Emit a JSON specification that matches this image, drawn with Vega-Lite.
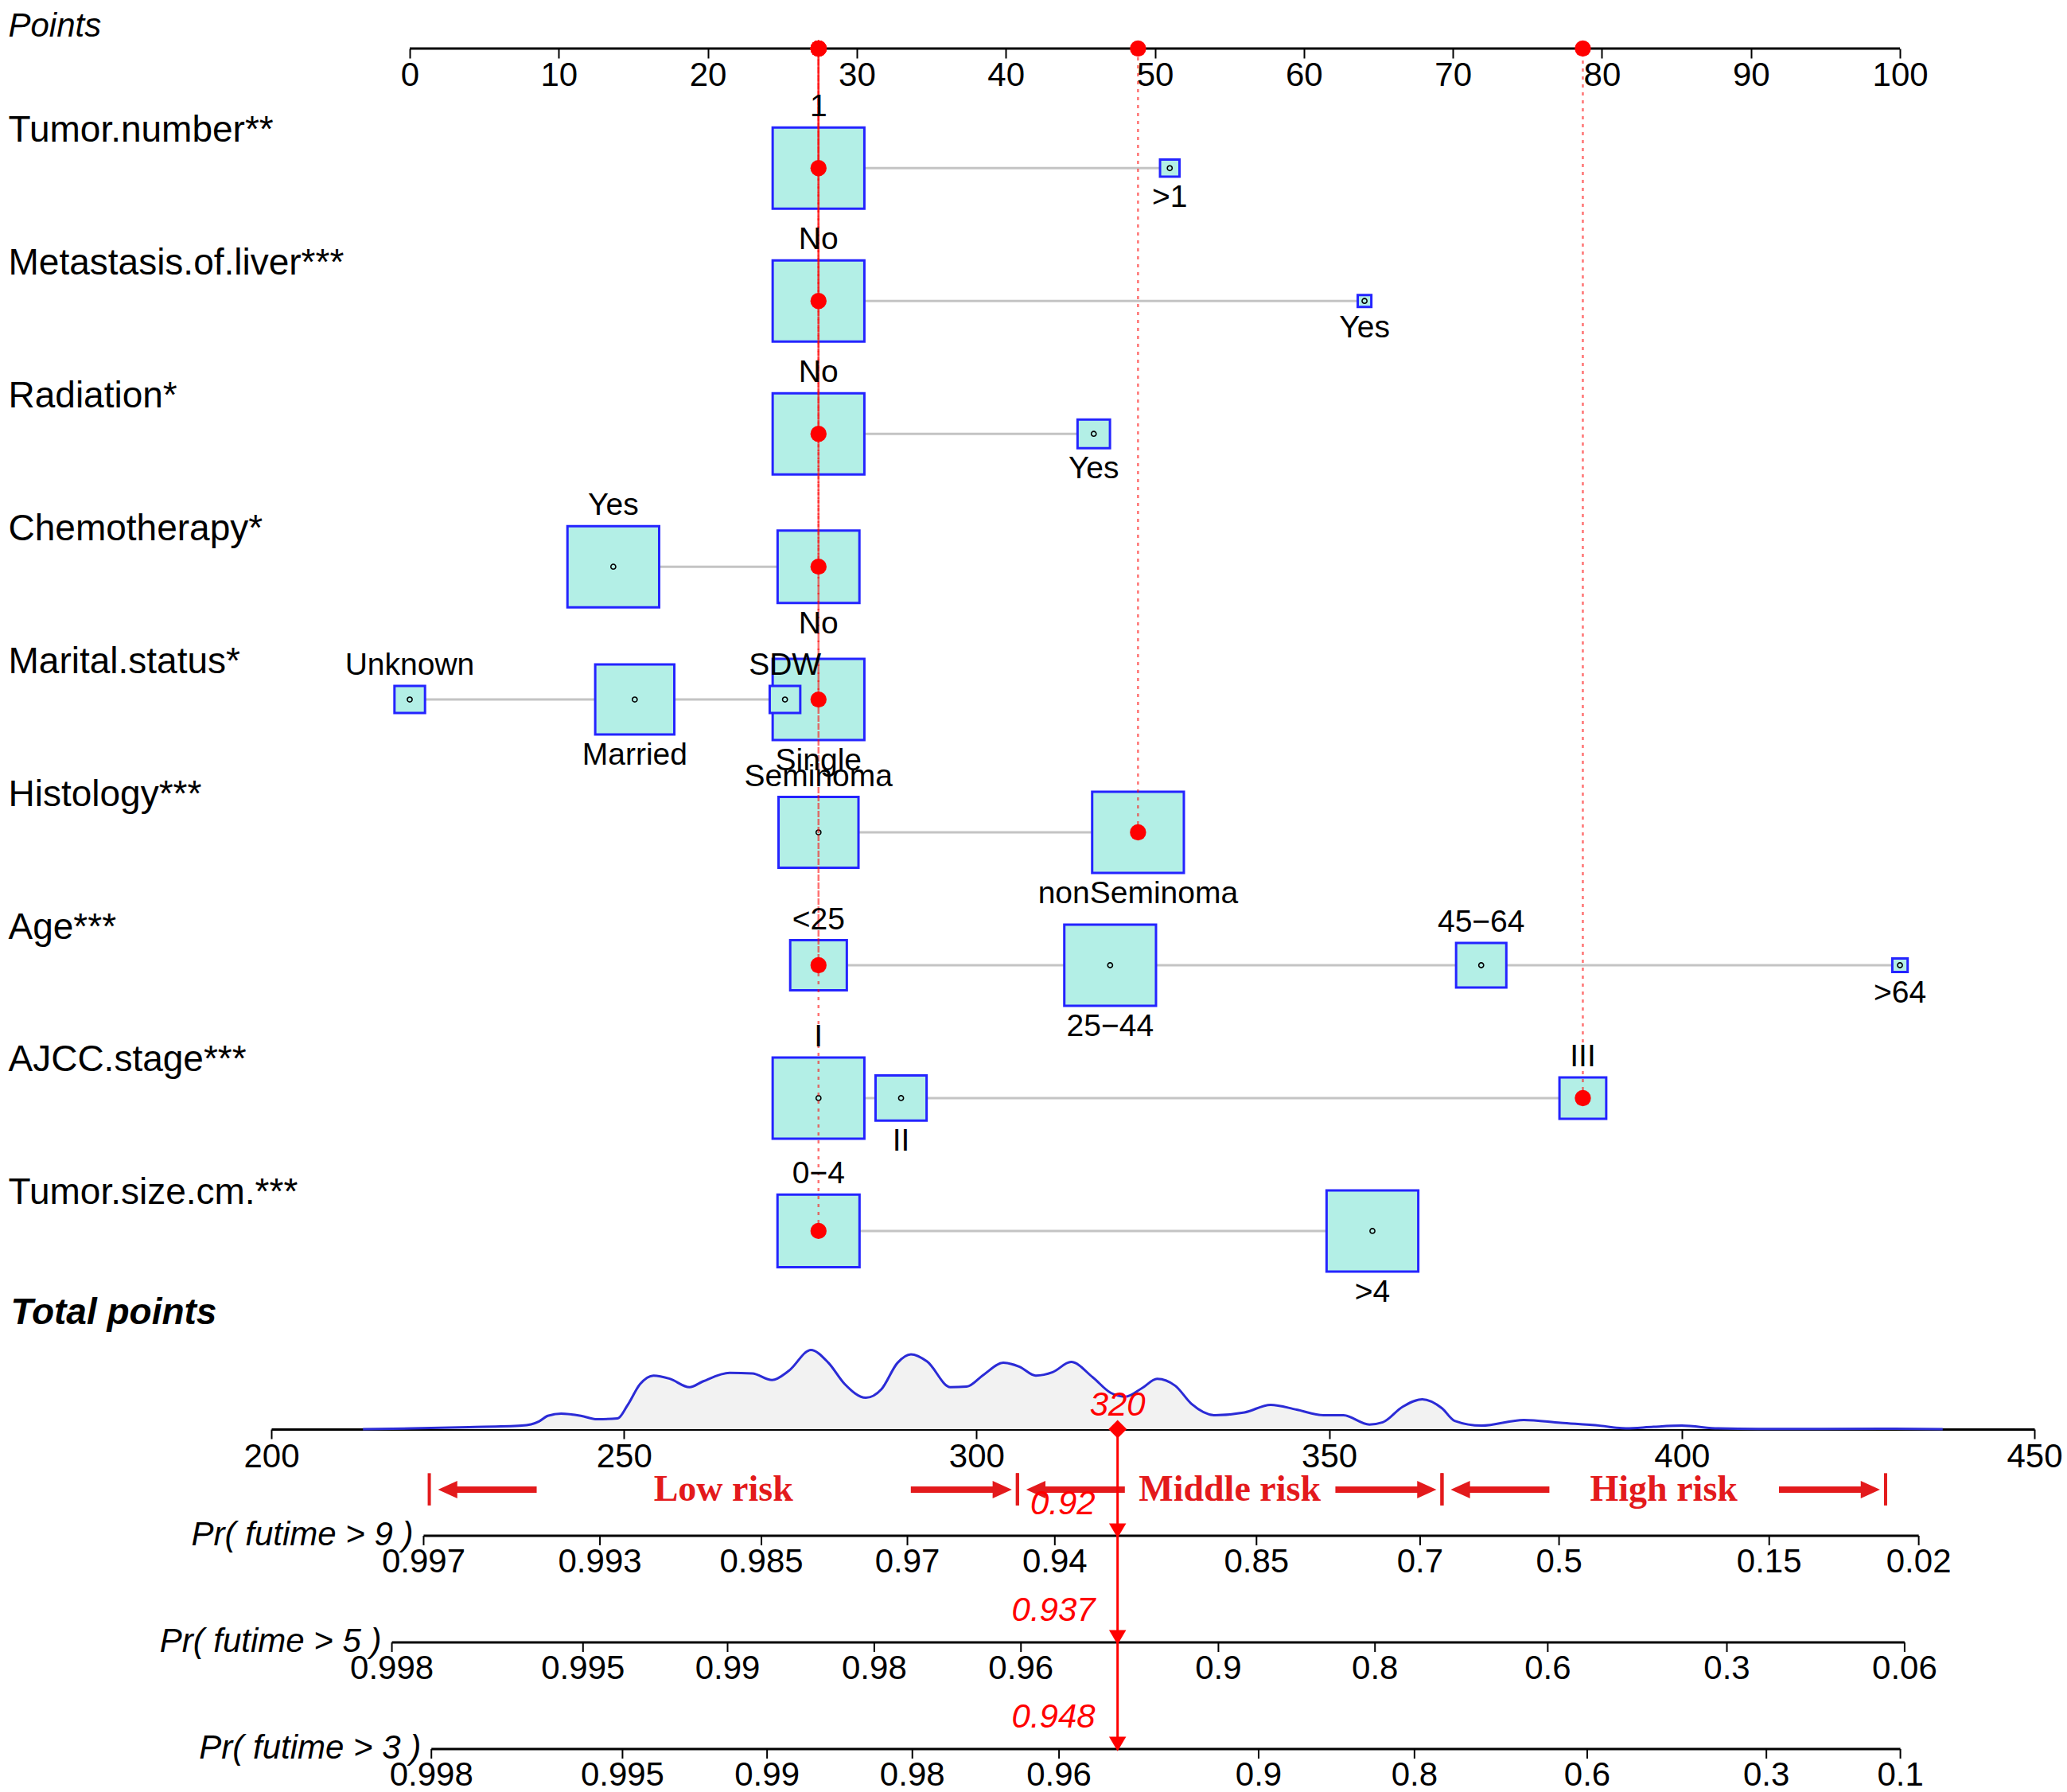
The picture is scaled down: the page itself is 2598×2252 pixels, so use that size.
{
"$schema": "https://vega.github.io/schema/vega-lite/v6.json",
"background": "white",
"padding": {"left": 10, "top": 11, "right": 2, "bottom": 0},
"spacing": 0,
"bounds": "flush",
"config": {"view": {"stroke": null}, "font": "Liberation Sans",
  "axis": {"labelFont": "Liberation Sans", "titleFont": "Liberation Sans", "labelColor": "black", "titleColor": "black", "tickColor": "black", "domainColor": "black", "grid": false}},
"datasets": {
  "nomogram": [
    {"variable": "Tumor.number**", "row": 1, "level": "1", "points": 27.43, "relFreq": 1.0, "selected": true},
    {"variable": "Tumor.number**", "row": 1, "level": ">1", "points": 51.0, "relFreq": 0.045, "selected": false},
    {"variable": "Metastasis.of.liver***", "row": 2, "level": "No", "points": 27.43, "relFreq": 1.0, "selected": true},
    {"variable": "Metastasis.of.liver***", "row": 2, "level": "Yes", "points": 64.07, "relFreq": 0.022, "selected": false},
    {"variable": "Radiation*", "row": 3, "level": "No", "points": 27.43, "relFreq": 1.0, "selected": true},
    {"variable": "Radiation*", "row": 3, "level": "Yes", "points": 45.9, "relFreq": 0.125, "selected": false},
    {"variable": "Chemotherapy*", "row": 4, "level": "Yes", "points": 13.66, "relFreq": 1.0, "selected": false},
    {"variable": "Chemotherapy*", "row": 4, "level": "No", "points": 27.43, "relFreq": 0.796, "selected": true},
    {"variable": "Marital.status*", "row": 5, "level": "Unknown", "points": 0, "relFreq": 0.111, "selected": false},
    {"variable": "Marital.status*", "row": 5, "level": "Married", "points": 15.1, "relFreq": 0.744, "selected": false},
    {"variable": "Marital.status*", "row": 5, "level": "SDW", "points": 25.18, "relFreq": 0.111, "selected": false},
    {"variable": "Marital.status*", "row": 5, "level": "Single", "points": 27.43, "relFreq": 1.0, "selected": true},
    {"variable": "Histology***", "row": 6, "level": "Seminoma", "points": 27.43, "relFreq": 0.76, "selected": false},
    {"variable": "Histology***", "row": 6, "level": "nonSeminoma", "points": 48.87, "relFreq": 1.0, "selected": true},
    {"variable": "Age***", "row": 7, "level": "<25", "points": 27.43, "relFreq": 0.381, "selected": true},
    {"variable": "Age***", "row": 7, "level": "25−44", "points": 47.0, "relFreq": 1.0, "selected": false},
    {"variable": "Age***", "row": 7, "level": "45−64", "points": 71.9, "relFreq": 0.30, "selected": false},
    {"variable": "Age***", "row": 7, "level": ">64", "points": 100, "relFreq": 0.028, "selected": false},
    {"variable": "AJCC.stage***", "row": 8, "level": "I", "points": 27.43, "relFreq": 1.0, "selected": false},
    {"variable": "AJCC.stage***", "row": 8, "level": "II", "points": 32.97, "relFreq": 0.31, "selected": false},
    {"variable": "AJCC.stage***", "row": 8, "level": "III", "points": 78.72, "relFreq": 0.26, "selected": true},
    {"variable": "Tumor.size.cm.***", "row": 9, "level": "0−4", "points": 27.43, "relFreq": 0.80, "selected": true},
    {"variable": "Tumor.size.cm.***", "row": 9, "level": ">4", "points": 64.6, "relFreq": 1.0, "selected": false}
  ],
  "density": [
    {"tp": 213, "density": 0}, {"tp": 220, "density": 0.010}, {"tp": 228, "density": 0.025}, {"tp": 235.5, "density": 0.044},
    {"tp": 238, "density": 0.10}, {"tp": 239.2, "density": 0.168}, {"tp": 241.1, "density": 0.195}, {"tp": 243.9, "density": 0.168},
    {"tp": 246.2, "density": 0.125}, {"tp": 249.1, "density": 0.135}, {"tp": 250.5, "density": 0.30}, {"tp": 252.3, "density": 0.57},
    {"tp": 254.2, "density": 0.677}, {"tp": 256.5, "density": 0.637}, {"tp": 259.3, "density": 0.53}, {"tp": 261.2, "density": 0.603},
    {"tp": 265.0, "density": 0.71}, {"tp": 268.2, "density": 0.703}, {"tp": 271.0, "density": 0.62}, {"tp": 273.4, "density": 0.738},
    {"tp": 276.5, "density": 0.999}, {"tp": 279.0, "density": 0.838}, {"tp": 281.3, "density": 0.57}, {"tp": 284.3, "density": 0.396},
    {"tp": 286.5, "density": 0.502}, {"tp": 288.8, "density": 0.838}, {"tp": 290.7, "density": 0.945}, {"tp": 293.0, "density": 0.854},
    {"tp": 296.3, "density": 0.53}, {"tp": 298.6, "density": 0.537}, {"tp": 301.0, "density": 0.687}, {"tp": 303.8, "density": 0.838},
    {"tp": 306.1, "density": 0.788}, {"tp": 308.4, "density": 0.677}, {"tp": 310.8, "density": 0.72}, {"tp": 313.4, "density": 0.848},
    {"tp": 316.5, "density": 0.653}, {"tp": 319.0, "density": 0.46}, {"tp": 321.1, "density": 0.41}, {"tp": 323.5, "density": 0.52},
    {"tp": 325.6, "density": 0.636}, {"tp": 328.2, "density": 0.547}, {"tp": 330.5, "density": 0.318}, {"tp": 333.8, "density": 0.176},
    {"tp": 338.0, "density": 0.211}, {"tp": 341.7, "density": 0.307}, {"tp": 345.4, "density": 0.246}, {"tp": 349.2, "density": 0.176},
    {"tp": 352.0, "density": 0.176}, {"tp": 355.7, "density": 0.059}, {"tp": 357.6, "density": 0.087}, {"tp": 360.4, "density": 0.281},
    {"tp": 363.2, "density": 0.377}, {"tp": 366.0, "density": 0.264}, {"tp": 367.8, "density": 0.105}, {"tp": 371.6, "density": 0.044},
    {"tp": 377.6, "density": 0.116}, {"tp": 382.8, "density": 0.080}, {"tp": 388.4, "density": 0.044}, {"tp": 392.1, "density": 0.009},
    {"tp": 396, "density": 0.03}, {"tp": 400, "density": 0.044}, {"tp": 405.2, "density": 0.009}, {"tp": 410.8, "density": 0.002},
    {"tp": 428.5, "density": 0.005}, {"tp": 437, "density": 0}
  ],
  "score": [{"total": 320}],
  "risk": [
    {"group": "Low risk", "from": 222.4, "to": 305.8},
    {"group": "Middle risk", "from": 305.8, "to": 366.0},
    {"group": "High risk", "from": 366.0, "to": 428.9}
  ],
  "prediction": [
    {"axis": "Pr9", "total": 320, "prob": "0.92"},
    {"axis": "Pr5", "total": 320, "prob": "0.937"},
    {"axis": "Pr3", "total": 320, "prob": "0.948"}
  ],
  "probAxes": [
    {"axis": "Pr9", "title": "Pr( futime > 9 )", "from": 221.6, "to": 433.6},
    {"axis": "Pr5", "title": "Pr( futime > 5 )", "from": 217.1, "to": 431.6},
    {"axis": "Pr3", "title": "Pr( futime > 3 )", "from": 222.7, "to": 431.0}
  ],
  "probTicks": [
    {"axis": "Pr9", "tp": 221.6, "label": "0.997"}, {"axis": "Pr9", "tp": 246.6, "label": "0.993"}, {"axis": "Pr9", "tp": 269.5, "label": "0.985"},
    {"axis": "Pr9", "tp": 290.2, "label": "0.97"}, {"axis": "Pr9", "tp": 311.1, "label": "0.94"}, {"axis": "Pr9", "tp": 339.7, "label": "0.85"},
    {"axis": "Pr9", "tp": 362.9, "label": "0.7"}, {"axis": "Pr9", "tp": 382.6, "label": "0.5"}, {"axis": "Pr9", "tp": 412.4, "label": "0.15"},
    {"axis": "Pr9", "tp": 433.6, "label": "0.02"},
    {"axis": "Pr5", "tp": 217.1, "label": "0.998"}, {"axis": "Pr5", "tp": 244.2, "label": "0.995"}, {"axis": "Pr5", "tp": 264.7, "label": "0.99"},
    {"axis": "Pr5", "tp": 285.5, "label": "0.98"}, {"axis": "Pr5", "tp": 306.3, "label": "0.96"}, {"axis": "Pr5", "tp": 334.3, "label": "0.9"},
    {"axis": "Pr5", "tp": 356.5, "label": "0.8"}, {"axis": "Pr5", "tp": 381.0, "label": "0.6"}, {"axis": "Pr5", "tp": 406.4, "label": "0.3"},
    {"axis": "Pr5", "tp": 431.6, "label": "0.06"},
    {"axis": "Pr3", "tp": 222.7, "label": "0.998"}, {"axis": "Pr3", "tp": 249.8, "label": "0.995"}, {"axis": "Pr3", "tp": 270.3, "label": "0.99"},
    {"axis": "Pr3", "tp": 290.9, "label": "0.98"}, {"axis": "Pr3", "tp": 311.7, "label": "0.96"}, {"axis": "Pr3", "tp": 340.0, "label": "0.9"},
    {"axis": "Pr3", "tp": 362.1, "label": "0.8"}, {"axis": "Pr3", "tp": 386.6, "label": "0.6"}, {"axis": "Pr3", "tp": 412.0, "label": "0.3"},
    {"axis": "Pr3", "tp": 431.0, "label": "0.1"}
  ]
},
"vconcat": [
  {
    "width": 2216, "height": 1536,
    "layer": [
      {
        "data": {"name": "nomogram"},
        "transform": [{"aggregate": [{"op": "min", "field": "points", "as": "pmin"}, {"op": "max", "field": "points", "as": "pmax"}], "groupby": ["row"]}],
        "mark": {"type": "rule", "color": "#c4c4c4", "strokeWidth": 3},
        "encoding": {
          "x": {"field": "pmin", "type": "quantitative", "scale": {"domain": [-9.29, 109.02], "nice": false, "zero": false},
            "axis": {"orient": "bottom", "offset": -1536, "values": [0, 10, 20, 30, 40, 50, 60, 70, 80, 90, 100], "domain": false, "ticks": true, "tickSize": 12, "tickWidth": 2,
              "labelFontSize": 42, "labelPadding": 1, "labelFlush": false, "labelOverlap": false,
              "title": "Points", "titleX": -331, "titleY": -16, "titleAlign": "left", "titleBaseline": "alphabetic", "titleAngle": 0,
              "titleFontSize": 42, "titleFontStyle": "italic", "titleFontWeight": "normal"}},
          "x2": {"field": "pmax"},
          "y": {"field": "row", "type": "quantitative", "scale": {"domain": [0.1, 9.3], "reverse": true, "nice": false, "zero": false},
            "axis": {"orient": "left", "values": [1, 2, 3, 4, 5, 6, 7, 8, 9],
              "labelExpr": "['Tumor.number**','Metastasis.of.liver***','Radiation*','Chemotherapy*','Marital.status*','Histology***','Age***','AJCC.stage***','Tumor.size.cm.***'][datum.value - 1]",
              "domain": false, "ticks": false, "tickSize": 0, "labelAlign": "left", "labelBaseline": "alphabetic", "labelPadding": 331, "labelOffset": -34,
              "labelFontSize": 46, "labelLimit": 0, "labelFlush": false, "labelOverlap": false, "title": null}}
        }
      },
      {
        "data": {"name": "nomogram"},
        "mark": {"type": "point", "shape": "M-1.13,-1H1.13V1H-1.13Z", "filled": true, "fill": "#b3efe6", "stroke": "#2424ff", "strokeWidth": 3, "opacity": 1, "fillOpacity": 1, "strokeOpacity": 1},
        "encoding": {
          "x": {"field": "points", "type": "quantitative", "scale": {"domain": [-9.29, 109.02], "nice": false, "zero": false}},
          "y": {"field": "row", "type": "quantitative", "scale": {"domain": [0.1, 9.3], "reverse": true, "nice": false, "zero": false}},
          "size": {"field": "relFreq", "type": "quantitative", "scale": {"domain": [0, 1], "range": [0, 10404]}, "legend": null},
          "order": {"field": "relFreq", "sort": "descending"}
        }
      },
      {
        "data": {"name": "nomogram"},
        "mark": {"type": "point", "shape": "circle", "filled": false, "stroke": "black", "strokeWidth": 1.6, "size": 38, "opacity": 1},
        "encoding": {
          "x": {"field": "points", "type": "quantitative", "scale": {"domain": [-9.29, 109.02], "nice": false, "zero": false}},
          "y": {"field": "row", "type": "quantitative", "scale": {"domain": [0.1, 9.3], "reverse": true, "nice": false, "zero": false}}
        }
      },
      {
        "data": {"name": "nomogram"},
        "transform": [{"filter": "datum.selected"}],
        "mark": {"type": "rule", "color": "#ff0000", "opacity": 0.55, "strokeWidth": 2.5, "strokeDash": [4, 6]},
        "encoding": {
          "x": {"field": "points", "type": "quantitative", "scale": {"domain": [-9.29, 109.02], "nice": false, "zero": false}},
          "y": {"field": "row", "type": "quantitative", "scale": {"domain": [0.1, 9.3], "reverse": true, "nice": false, "zero": false}},
          "y2": {"datum": 0.1}
        }
      },
      {
        "data": {"values": [{}]},
        "mark": {"type": "rule", "color": "black", "strokeWidth": 3},
        "encoding": {
          "x": {"datum": 0, "type": "quantitative", "scale": {"domain": [-9.29, 109.02], "nice": false, "zero": false}},
          "x2": {"datum": 100},
          "y": {"datum": 0.1, "type": "quantitative", "scale": {"domain": [0.1, 9.3], "reverse": true, "nice": false, "zero": false}}
        }
      },
      {
        "data": {"name": "nomogram"},
        "transform": [{"filter": "datum.selected"}],
        "mark": {"type": "point", "shape": "circle", "filled": true, "color": "#ff0000", "size": 415, "opacity": 1},
        "encoding": {
          "x": {"field": "points", "type": "quantitative", "scale": {"domain": [-9.29, 109.02], "nice": false, "zero": false}},
          "y": {"field": "row", "type": "quantitative", "scale": {"domain": [0.1, 9.3], "reverse": true, "nice": false, "zero": false}}
        }
      },
      {
        "data": {"name": "nomogram"},
        "transform": [{"filter": "datum.selected"}],
        "mark": {"type": "point", "shape": "circle", "filled": true, "color": "#ff0000", "size": 415, "opacity": 1},
        "encoding": {
          "x": {"field": "points", "type": "quantitative", "scale": {"domain": [-9.29, 109.02], "nice": false, "zero": false}},
          "y": {"datum": 0.1, "type": "quantitative", "scale": {"domain": [0.1, 9.3], "reverse": true, "nice": false, "zero": false}}
        }
      },
      {
        "data": {"name": "nomogram"},
        "transform": [
          {"window": [{"op": "row_number", "as": "rank"}], "groupby": ["variable"], "sort": [{"field": "points", "order": "ascending"}]},
          {"calculate": "datum.row + (datum.rank % 2 === 1 ? -1 : 1) * (51 * sqrt(datum.relFreq) + 26) / 166.96", "as": "labelRow"}
        ],
        "mark": {"type": "text", "fontSize": 39, "color": "black", "align": "center", "baseline": "middle"},
        "encoding": {
          "x": {"field": "points", "type": "quantitative", "scale": {"domain": [-9.29, 109.02], "nice": false, "zero": false}},
          "y": {"field": "labelRow", "type": "quantitative", "scale": {"domain": [0.1, 9.3], "reverse": true, "nice": false, "zero": false}},
          "text": {"field": "level"}
        }
      }
    ]
  },
  {
    "width": 2216, "height": 199,
    "layer": [
      {
        "data": {"name": "density"},
        "mark": {"type": "area", "color": "#f2f2f2", "interpolate": "monotone", "opacity": 1},
        "encoding": {
          "x": {"field": "tp", "type": "quantitative", "scale": {"domain": [200, 450], "nice": false, "zero": false},
            "axis": {"orient": "bottom", "values": [200, 250, 300, 350, 400, 450], "domain": true, "domainWidth": 3, "tickSize": 12, "tickWidth": 2,
              "labelFontSize": 42, "labelPadding": 2, "labelFlush": false, "labelOverlap": false,
              "title": "Total points", "titleX": -328, "titleY": -133, "titleAlign": "left", "titleBaseline": "alphabetic", "titleAngle": 0,
              "titleFontSize": 46, "titleFontStyle": "italic", "titleFontWeight": "bold"}},
          "y": {"field": "density", "type": "quantitative", "scale": {"domain": [0, 2], "nice": false, "zero": false}, "axis": null}
        }
      },
      {
        "data": {"name": "density"},
        "mark": {"type": "line", "color": "#2b2bd6", "strokeWidth": 3, "interpolate": "monotone"},
        "encoding": {
          "x": {"field": "tp", "type": "quantitative", "scale": {"domain": [200, 450], "nice": false, "zero": false}},
          "y": {"field": "density", "type": "quantitative", "scale": {"domain": [0, 2], "nice": false, "zero": false}, "axis": null}
        }
      },
      {
        "data": {"name": "score"},
        "mark": {"type": "point", "shape": "diamond", "filled": true, "color": "#ff0000", "size": 529, "opacity": 1},
        "encoding": {
          "x": {"field": "total", "type": "quantitative", "scale": {"domain": [200, 450], "nice": false, "zero": false}},
          "y": {"datum": 0, "type": "quantitative", "scale": {"domain": [0, 2], "nice": false, "zero": false}, "axis": null}
        }
      },
      {
        "data": {"name": "score"},
        "mark": {"type": "text", "color": "#ff0000", "fontSize": 42, "fontStyle": "italic", "align": "center", "baseline": "alphabetic", "dy": -17},
        "encoding": {
          "x": {"field": "total", "type": "quantitative", "scale": {"domain": [200, 450], "nice": false, "zero": false}},
          "y": {"datum": 0, "type": "quantitative", "scale": {"domain": [0, 2], "nice": false, "zero": false}, "axis": null},
          "text": {"field": "total"}
        }
      }
    ]
  },
  {
    "width": 2216, "height": 134,
    "layer": [
      {
        "data": {"name": "risk"},
        "mark": {"type": "rule", "color": "#e31a1c", "strokeWidth": 4},
        "encoding": {
          "x": {"field": "from", "type": "quantitative", "scale": {"domain": [200, 450], "nice": false, "zero": false}, "axis": null},
          "y": {"datum": 0.587, "type": "quantitative", "scale": {"domain": [0, 1], "nice": false, "zero": false}, "axis": null},
          "y2": {"datum": 0.284}
        }
      },
      {
        "data": {"name": "risk"},
        "mark": {"type": "rule", "color": "#e31a1c", "strokeWidth": 4},
        "encoding": {
          "x": {"field": "to", "type": "quantitative", "scale": {"domain": [200, 450], "nice": false, "zero": false}, "axis": null},
          "y": {"datum": 0.587, "type": "quantitative", "scale": {"domain": [0, 1], "nice": false, "zero": false}, "axis": null},
          "y2": {"datum": 0.284}
        }
      },
      {
        "data": {"name": "risk"},
        "mark": {"type": "rule", "color": "#e31a1c", "strokeWidth": 8, "xOffset": 31, "x2Offset": 135},
        "encoding": {
          "x": {"field": "from", "type": "quantitative", "scale": {"domain": [200, 450], "nice": false, "zero": false}, "axis": null},
          "x2": {"field": "from"},
          "y": {"datum": 0.433, "type": "quantitative", "scale": {"domain": [0, 1], "nice": false, "zero": false}, "axis": null}
        }
      },
      {
        "data": {"name": "risk"},
        "mark": {"type": "rule", "color": "#e31a1c", "strokeWidth": 8, "xOffset": -28, "x2Offset": -134},
        "encoding": {
          "x": {"field": "to", "type": "quantitative", "scale": {"domain": [200, 450], "nice": false, "zero": false}, "axis": null},
          "x2": {"field": "to"},
          "y": {"datum": 0.433, "type": "quantitative", "scale": {"domain": [0, 1], "nice": false, "zero": false}, "axis": null}
        }
      },
      {
        "data": {"name": "risk"},
        "mark": {"type": "point", "shape": "M0,0L2.2,-1L2.2,1Z", "size": 484, "filled": true, "color": "#e31a1c", "opacity": 1, "xOffset": 11},
        "encoding": {
          "x": {"field": "from", "type": "quantitative", "scale": {"domain": [200, 450], "nice": false, "zero": false}, "axis": null},
          "y": {"datum": 0.433, "type": "quantitative", "scale": {"domain": [0, 1], "nice": false, "zero": false}, "axis": null}
        }
      },
      {
        "data": {"name": "risk"},
        "mark": {"type": "point", "shape": "M0,0L-2.2,-1L-2.2,1Z", "size": 484, "filled": true, "color": "#e31a1c", "opacity": 1, "xOffset": -7},
        "encoding": {
          "x": {"field": "to", "type": "quantitative", "scale": {"domain": [200, 450], "nice": false, "zero": false}, "axis": null},
          "y": {"datum": 0.433, "type": "quantitative", "scale": {"domain": [0, 1], "nice": false, "zero": false}, "axis": null}
        }
      },
      {
        "data": {"name": "risk"},
        "transform": [{"calculate": "(datum.from + datum.to) / 2", "as": "mid"}],
        "mark": {"type": "text", "font": "Liberation Serif", "fontWeight": "bold", "fontSize": 46, "color": "#e31a1c", "align": "center", "baseline": "middle"},
        "encoding": {
          "x": {"field": "mid", "type": "quantitative", "scale": {"domain": [200, 450], "nice": false, "zero": false}, "axis": null},
          "y": {"datum": 0.433, "type": "quantitative", "scale": {"domain": [0, 1], "nice": false, "zero": false}, "axis": null},
          "text": {"field": "group"}
        }
      },
      {
        "data": {"name": "probAxes"},
        "transform": [{"filter": "datum.axis === 'Pr9'"}],
        "mark": {"type": "rule", "color": "black", "strokeWidth": 3},
        "encoding": {
          "x": {"field": "from", "type": "quantitative", "scale": {"domain": [200, 450], "nice": false, "zero": false}, "axis": null},
          "x2": {"field": "to"},
          "y": {"datum": 0, "type": "quantitative", "scale": {"domain": [0, 1], "nice": false, "zero": false}, "axis": null}
        }
      },
      {
        "data": {"name": "probTicks"},
        "transform": [{"filter": "datum.axis === 'Pr9'"}],
        "mark": {"type": "rule", "color": "black", "strokeWidth": 2},
        "encoding": {
          "x": {"field": "tp", "type": "quantitative", "scale": {"domain": [200, 450], "nice": false, "zero": false}, "axis": null},
          "y": {"datum": 0, "type": "quantitative", "scale": {"domain": [0, 1], "nice": false, "zero": false}, "axis": null},
          "y2": {"datum": -0.0896}
        }
      },
      {
        "data": {"name": "probTicks"},
        "transform": [{"filter": "datum.axis === 'Pr9'"}],
        "mark": {"type": "text", "fontSize": 42, "color": "black", "align": "center", "baseline": "top", "dy": 13},
        "encoding": {
          "x": {"field": "tp", "type": "quantitative", "scale": {"domain": [200, 450], "nice": false, "zero": false}, "axis": null},
          "y": {"datum": 0, "type": "quantitative", "scale": {"domain": [0, 1], "nice": false, "zero": false}, "axis": null},
          "text": {"field": "label"}
        }
      },
      {
        "data": {"name": "probAxes"},
        "transform": [{"filter": "datum.axis === 'Pr9'"}],
        "mark": {"type": "text", "fontSize": 42, "fontStyle": "italic", "color": "black", "align": "right", "baseline": "alphabetic", "dx": -13, "dy": 12},
        "encoding": {
          "x": {"field": "from", "type": "quantitative", "scale": {"domain": [200, 450], "nice": false, "zero": false}, "axis": null},
          "y": {"datum": 0, "type": "quantitative", "scale": {"domain": [0, 1], "nice": false, "zero": false}, "axis": null},
          "text": {"field": "title"}
        }
      },
      {
        "data": {"name": "prediction"},
        "transform": [{"filter": "datum.axis === 'Pr9'"}],
        "mark": {"type": "rule", "color": "#ff0000", "strokeWidth": 3},
        "encoding": {
          "x": {"field": "total", "type": "quantitative", "scale": {"domain": [200, 450], "nice": false, "zero": false}, "axis": null}
        }
      },
      {
        "data": {"name": "prediction"},
        "transform": [{"filter": "datum.axis === 'Pr9'"}],
        "mark": {"type": "point", "shape": "M-1,-1.45L1,-1.45L0,0.25Z", "size": 462, "filled": true, "color": "#ff0000", "opacity": 1},
        "encoding": {
          "x": {"field": "total", "type": "quantitative", "scale": {"domain": [200, 450], "nice": false, "zero": false}, "axis": null},
          "y": {"datum": 0, "type": "quantitative", "scale": {"domain": [0, 1], "nice": false, "zero": false}, "axis": null}
        }
      },
      {
        "data": {"name": "prediction"},
        "transform": [{"filter": "datum.axis === 'Pr9'"}],
        "mark": {"type": "text", "fontSize": 42, "fontStyle": "italic", "color": "#ff0000", "align": "right", "baseline": "alphabetic", "dx": -28, "dy": -27},
        "encoding": {
          "x": {"field": "total", "type": "quantitative", "scale": {"domain": [200, 450], "nice": false, "zero": false}, "axis": null},
          "y": {"datum": 0, "type": "quantitative", "scale": {"domain": [0, 1], "nice": false, "zero": false}, "axis": null},
          "text": {"field": "prob"}
        }
      }
    ]
  },
  {
    "width": 2216, "height": 134,
    "layer": [
      {
        "data": {"name": "probAxes"},
        "transform": [{"filter": "datum.axis === 'Pr5'"}],
        "mark": {"type": "rule", "color": "black", "strokeWidth": 3},
        "encoding": {
          "x": {"field": "from", "type": "quantitative", "scale": {"domain": [200, 450], "nice": false, "zero": false}, "axis": null},
          "x2": {"field": "to"},
          "y": {"datum": 0, "type": "quantitative", "scale": {"domain": [0, 1], "nice": false, "zero": false}, "axis": null}
        }
      },
      {
        "data": {"name": "probTicks"},
        "transform": [{"filter": "datum.axis === 'Pr5'"}],
        "mark": {"type": "rule", "color": "black", "strokeWidth": 2},
        "encoding": {
          "x": {"field": "tp", "type": "quantitative", "scale": {"domain": [200, 450], "nice": false, "zero": false}, "axis": null},
          "y": {"datum": 0, "type": "quantitative", "scale": {"domain": [0, 1], "nice": false, "zero": false}, "axis": null},
          "y2": {"datum": -0.0896}
        }
      },
      {
        "data": {"name": "probTicks"},
        "transform": [{"filter": "datum.axis === 'Pr5'"}],
        "mark": {"type": "text", "fontSize": 42, "color": "black", "align": "center", "baseline": "top", "dy": 13},
        "encoding": {
          "x": {"field": "tp", "type": "quantitative", "scale": {"domain": [200, 450], "nice": false, "zero": false}, "axis": null},
          "y": {"datum": 0, "type": "quantitative", "scale": {"domain": [0, 1], "nice": false, "zero": false}, "axis": null},
          "text": {"field": "label"}
        }
      },
      {
        "data": {"name": "probAxes"},
        "transform": [{"filter": "datum.axis === 'Pr5'"}],
        "mark": {"type": "text", "fontSize": 42, "fontStyle": "italic", "color": "black", "align": "right", "baseline": "alphabetic", "dx": -13, "dy": 12},
        "encoding": {
          "x": {"field": "from", "type": "quantitative", "scale": {"domain": [200, 450], "nice": false, "zero": false}, "axis": null},
          "y": {"datum": 0, "type": "quantitative", "scale": {"domain": [0, 1], "nice": false, "zero": false}, "axis": null},
          "text": {"field": "title"}
        }
      },
      {
        "data": {"name": "prediction"},
        "transform": [{"filter": "datum.axis === 'Pr5'"}],
        "mark": {"type": "rule", "color": "#ff0000", "strokeWidth": 3},
        "encoding": {
          "x": {"field": "total", "type": "quantitative", "scale": {"domain": [200, 450], "nice": false, "zero": false}, "axis": null}
        }
      },
      {
        "data": {"name": "prediction"},
        "transform": [{"filter": "datum.axis === 'Pr5'"}],
        "mark": {"type": "point", "shape": "M-1,-1.45L1,-1.45L0,0.25Z", "size": 462, "filled": true, "color": "#ff0000", "opacity": 1},
        "encoding": {
          "x": {"field": "total", "type": "quantitative", "scale": {"domain": [200, 450], "nice": false, "zero": false}, "axis": null},
          "y": {"datum": 0, "type": "quantitative", "scale": {"domain": [0, 1], "nice": false, "zero": false}, "axis": null}
        }
      },
      {
        "data": {"name": "prediction"},
        "transform": [{"filter": "datum.axis === 'Pr5'"}],
        "mark": {"type": "text", "fontSize": 42, "fontStyle": "italic", "color": "#ff0000", "align": "right", "baseline": "alphabetic", "dx": -28, "dy": -27},
        "encoding": {
          "x": {"field": "total", "type": "quantitative", "scale": {"domain": [200, 450], "nice": false, "zero": false}, "axis": null},
          "y": {"datum": 0, "type": "quantitative", "scale": {"domain": [0, 1], "nice": false, "zero": false}, "axis": null},
          "text": {"field": "prob"}
        }
      }
    ]
  },
  {
    "width": 2216, "height": 134,
    "layer": [
      {
        "data": {"name": "probAxes"},
        "transform": [{"filter": "datum.axis === 'Pr3'"}],
        "mark": {"type": "rule", "color": "black", "strokeWidth": 3},
        "encoding": {
          "x": {"field": "from", "type": "quantitative", "scale": {"domain": [200, 450], "nice": false, "zero": false}, "axis": null},
          "x2": {"field": "to"},
          "y": {"datum": 0, "type": "quantitative", "scale": {"domain": [0, 1], "nice": false, "zero": false}, "axis": null}
        }
      },
      {
        "data": {"name": "probTicks"},
        "transform": [{"filter": "datum.axis === 'Pr3'"}],
        "mark": {"type": "rule", "color": "black", "strokeWidth": 2},
        "encoding": {
          "x": {"field": "tp", "type": "quantitative", "scale": {"domain": [200, 450], "nice": false, "zero": false}, "axis": null},
          "y": {"datum": 0, "type": "quantitative", "scale": {"domain": [0, 1], "nice": false, "zero": false}, "axis": null},
          "y2": {"datum": -0.0896}
        }
      },
      {
        "data": {"name": "probTicks"},
        "transform": [{"filter": "datum.axis === 'Pr3'"}],
        "mark": {"type": "text", "fontSize": 42, "color": "black", "align": "center", "baseline": "top", "dy": 13},
        "encoding": {
          "x": {"field": "tp", "type": "quantitative", "scale": {"domain": [200, 450], "nice": false, "zero": false}, "axis": null},
          "y": {"datum": 0, "type": "quantitative", "scale": {"domain": [0, 1], "nice": false, "zero": false}, "axis": null},
          "text": {"field": "label"}
        }
      },
      {
        "data": {"name": "probAxes"},
        "transform": [{"filter": "datum.axis === 'Pr3'"}],
        "mark": {"type": "text", "fontSize": 42, "fontStyle": "italic", "color": "black", "align": "right", "baseline": "alphabetic", "dx": -13, "dy": 12},
        "encoding": {
          "x": {"field": "from", "type": "quantitative", "scale": {"domain": [200, 450], "nice": false, "zero": false}, "axis": null},
          "y": {"datum": 0, "type": "quantitative", "scale": {"domain": [0, 1], "nice": false, "zero": false}, "axis": null},
          "text": {"field": "title"}
        }
      },
      {
        "data": {"name": "prediction"},
        "transform": [{"filter": "datum.axis === 'Pr3'"}],
        "mark": {"type": "rule", "color": "#ff0000", "strokeWidth": 3},
        "encoding": {
          "x": {"field": "total", "type": "quantitative", "scale": {"domain": [200, 450], "nice": false, "zero": false}, "axis": null}
        }
      },
      {
        "data": {"name": "prediction"},
        "transform": [{"filter": "datum.axis === 'Pr3'"}],
        "mark": {"type": "point", "shape": "M-1,-1.45L1,-1.45L0,0.25Z", "size": 462, "filled": true, "color": "#ff0000", "opacity": 1},
        "encoding": {
          "x": {"field": "total", "type": "quantitative", "scale": {"domain": [200, 450], "nice": false, "zero": false}, "axis": null},
          "y": {"datum": 0, "type": "quantitative", "scale": {"domain": [0, 1], "nice": false, "zero": false}, "axis": null}
        }
      },
      {
        "data": {"name": "prediction"},
        "transform": [{"filter": "datum.axis === 'Pr3'"}],
        "mark": {"type": "text", "fontSize": 42, "fontStyle": "italic", "color": "#ff0000", "align": "right", "baseline": "alphabetic", "dx": -28, "dy": -27},
        "encoding": {
          "x": {"field": "total", "type": "quantitative", "scale": {"domain": [200, 450], "nice": false, "zero": false}, "axis": null},
          "y": {"datum": 0, "type": "quantitative", "scale": {"domain": [0, 1], "nice": false, "zero": false}, "axis": null},
          "text": {"field": "prob"}
        }
      }
    ]
  }
]
}
